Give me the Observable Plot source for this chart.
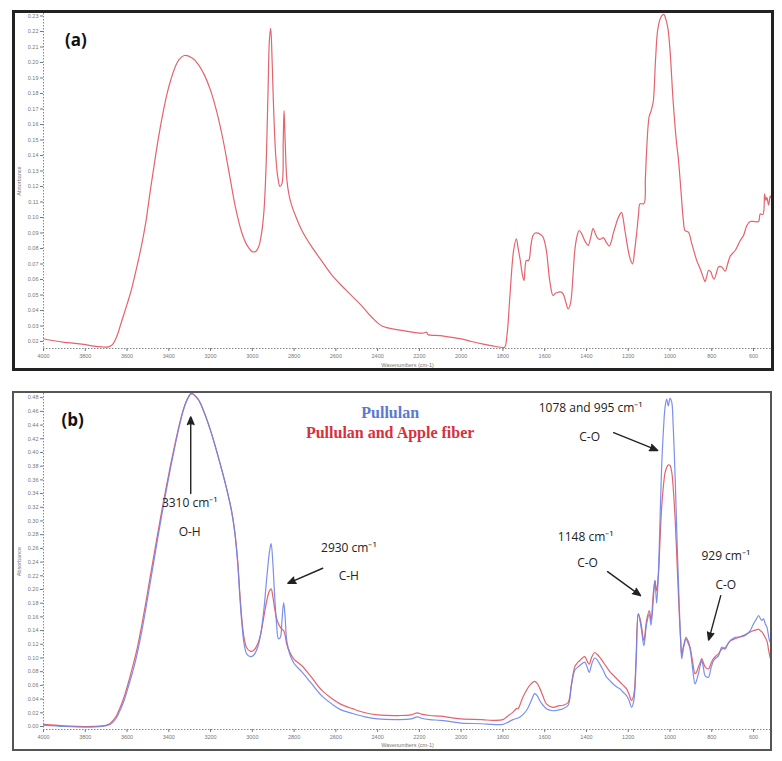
<!DOCTYPE html>
<html><head><meta charset="utf-8">
<script src="https://cdn.jsdelivr.net/npm/d3@7"></script>
<script src="https://cdn.jsdelivr.net/npm/@observablehq/plot@0.6"></script>
<style>
body{margin:0;background:#fff;width:782px;height:761px;position:relative;overflow:hidden;}
.panel{position:absolute;}
.frame{position:absolute;box-sizing:border-box;pointer-events:none;}
</style></head><body>
<div id="a" class="panel" style="left:0;top:0"></div>
<div id="b" class="panel" style="left:0;top:385px"></div>
<div class="frame" style="left:12px;top:10px;width:762px;height:361px;border:3px solid #222"></div>
<div class="frame" style="left:12px;top:391px;width:760px;height:360px;border:2px solid #555"></div>
<script>
// ---------- tick labels ----------
const xTicks = [4000,3800,3600,3400,3200,3000,2800,2600,2400,2200,2000,1800,1600,1400,1200,1000,800,600];
const yTicksA = [0.02,0.03,0.04,0.05,0.06,0.07,0.08,0.09,0.10,0.11,0.12,0.13,0.14,0.15,0.16,0.17,0.18,0.19,0.20,0.21,0.22,0.23];
const yTicksB = [0.00,0.02,0.04,0.06,0.08,0.10,0.12,0.14,0.16,0.18,0.20,0.22,0.24,0.26,0.28,0.30,0.32,0.34,0.36,0.38,0.40,0.42,0.44,0.46,0.48];

// ---------- panel (a): apple fiber spectrum ----------
const wnA = [4000,3950,3900,3850,3800,3760,3720,3690,3670,3650,3629,3600,3580,3550,3532,3510,3490,3470,3450,3430,3410,3390,3370,3350,3326,3290,3260,3230,3200,3170,3140,3110,3080,3050,3025,3000,2985,2970,2958,2945,2935,2925,2918,2912,2905,2898,2888,2879,2868,2858,2852,2848,2843,2835,2825,2812,2790,2764,2720,2668,2620,2572,2520,2476,2430,2379,2300,2220,2180,2165,2160,2100,2050,2000,1950,1900,1850,1810,1792,1780,1768,1749,1736,1727,1717,1708,1699,1688,1677,1666,1656,1645,1632,1620,1608,1592,1576,1560,1548,1536,1524,1512,1500,1488,1477,1464,1456,1445,1435,1425,1416,1404,1392,1380,1368,1356,1344,1332,1320,1305,1291,1280,1272,1260,1253,1240,1232,1224,1216,1208,1200,1190,1179,1170,1160,1150,1144,1125,1118,1112,1100,1090,1080,1070,1060,1050,1040,1030,1020,1010,1000,985,970,960,952,944,936,928,912,896,872,853,840,832,824,816,805,797,789,778,768,752,736,724,712,688,664,648,632,616,596,576,568,555,547,541,536,528,520,514];
const absA = [0.0218,0.0205,0.0195,0.0188,0.0180,0.0170,0.0165,0.0166,0.0180,0.0230,0.0316,0.044,0.053,0.070,0.081,0.097,0.116,0.134,0.151,0.166,0.179,0.189,0.197,0.202,0.2045,0.203,0.199,0.192,0.182,0.168,0.150,0.128,0.106,0.090,0.082,0.078,0.078,0.081,0.088,0.103,0.130,0.180,0.215,0.222,0.200,0.170,0.140,0.127,0.120,0.122,0.150,0.169,0.150,0.125,0.115,0.108,0.100,0.092,0.082,0.072,0.063,0.056,0.049,0.043,0.036,0.030,0.0275,0.0258,0.0255,0.0260,0.0245,0.0238,0.0228,0.0217,0.0200,0.0185,0.0172,0.0163,0.0163,0.025,0.0465,0.0787,0.0863,0.080,0.0723,0.064,0.0594,0.0723,0.0723,0.082,0.0884,0.090,0.0899,0.089,0.0874,0.0787,0.0594,0.0497,0.0512,0.0518,0.052,0.0508,0.046,0.0411,0.0443,0.0637,0.0787,0.088,0.0916,0.090,0.0874,0.084,0.082,0.087,0.093,0.089,0.0863,0.086,0.087,0.084,0.0815,0.085,0.0896,0.095,0.0981,0.102,0.1034,0.099,0.0916,0.085,0.0787,0.073,0.0701,0.078,0.0896,0.103,0.1088,0.109,0.125,0.143,0.165,0.169,0.175,0.200,0.220,0.227,0.230,0.231,0.228,0.222,0.208,0.175,0.150,0.138,0.125,0.111,0.098,0.0916,0.0906,0.0833,0.0723,0.066,0.061,0.0587,0.062,0.0658,0.065,0.062,0.0602,0.064,0.0681,0.0681,0.0654,0.070,0.075,0.0787,0.085,0.0884,0.0948,0.0974,0.0974,0.0974,0.1023,0.102,0.1153,0.111,0.113,0.108,0.114,0.112];

// ---------- panel (b): Pullulan (blue) ----------
const wnBlue = [4000,3900,3800,3720,3690,3676,3652,3630,3614,3590,3571,3550,3530,3510,3490,3470,3450,3430,3410,3390,3370,3350,3330,3310,3292,3260,3230,3198,3160,3127,3100,3085,3070,3060,3050,3040,3027,3010,2994,2975,2960,2945,2930,2918,2910,2902,2893,2884,2875,2866,2858,2850,2843,2835,2820,2800,2764,2720,2668,2620,2580,2520,2460,2400,2300,2240,2210,2190,2150,2100,2050,2000,1900,1850,1800,1784,1752,1720,1688,1664,1648,1636,1624,1608,1592,1560,1536,1512,1488,1472,1456,1444,1432,1420,1408,1396,1387,1374,1360,1348,1336,1320,1304,1288,1272,1256,1240,1224,1208,1196,1184,1173,1163,1152,1144,1136,1125,1112,1099,1091,1080,1072,1064,1056,1048,1040,1032,1024,1016,1008,1000,992,985,975,965,955,948,944,935,923,914,904,892,880,872,864,856,848,840,832,816,804,792,780,768,760,752,736,724,712,700,688,664,640,616,600,588,576,568,560,552,544,536,523,514];
const absBlue = [0.002,0.000,-0.001,0.000,0.002,0.004,0.012,0.026,0.038,0.062,0.082,0.108,0.138,0.172,0.208,0.244,0.280,0.315,0.348,0.380,0.410,0.438,0.462,0.478,0.486,0.478,0.458,0.430,0.390,0.352,0.315,0.285,0.238,0.190,0.150,0.122,0.106,0.102,0.104,0.115,0.135,0.170,0.220,0.255,0.267,0.240,0.190,0.150,0.128,0.130,0.155,0.181,0.160,0.125,0.105,0.092,0.080,0.064,0.045,0.033,0.025,0.019,0.014,0.011,0.010,0.011,0.014,0.012,0.010,0.009,0.007,0.005,0.004,0.003,0.003,0.005,0.010,0.0136,0.023,0.038,0.048,0.045,0.038,0.031,0.026,0.023,0.024,0.026,0.031,0.060,0.082,0.086,0.089,0.092,0.094,0.086,0.079,0.092,0.100,0.097,0.091,0.082,0.072,0.067,0.062,0.058,0.055,0.050,0.045,0.038,0.028,0.038,0.087,0.1645,0.155,0.140,0.118,0.150,0.164,0.148,0.185,0.213,0.180,0.220,0.300,0.380,0.430,0.465,0.478,0.468,0.479,0.474,0.440,0.360,0.260,0.170,0.120,0.099,0.115,0.128,0.122,0.113,0.085,0.062,0.068,0.077,0.088,0.096,0.086,0.074,0.072,0.085,0.096,0.100,0.103,0.110,0.116,0.113,0.120,0.125,0.128,0.130,0.131,0.133,0.140,0.150,0.156,0.162,0.158,0.155,0.157,0.150,0.145,0.125,0.120];

// ---------- panel (b): Pullulan and Apple fiber (red) ----------
const wnRed = [4000,3900,3800,3720,3690,3676,3652,3630,3614,3590,3571,3550,3530,3510,3490,3470,3450,3430,3410,3390,3370,3350,3330,3310,3292,3260,3230,3198,3160,3127,3100,3085,3070,3060,3050,3040,3027,3010,2994,2975,2960,2945,2930,2918,2910,2902,2893,2884,2875,2866,2858,2850,2843,2835,2820,2800,2764,2720,2668,2620,2580,2520,2460,2400,2300,2240,2210,2190,2150,2100,2050,2000,1900,1850,1800,1784,1752,1735,1728,1704,1672,1648,1636,1624,1608,1592,1560,1536,1512,1488,1472,1456,1444,1432,1420,1408,1396,1387,1374,1360,1348,1336,1320,1304,1288,1272,1256,1240,1224,1208,1196,1184,1173,1163,1152,1144,1136,1125,1112,1099,1091,1080,1072,1064,1056,1048,1040,1032,1024,1016,1008,1000,992,985,975,965,955,948,944,935,923,914,904,892,880,872,864,856,848,840,832,816,804,792,780,768,752,736,712,688,664,640,616,600,588,576,568,560,548,536,528,520,514];
const absRed = [0.003,0.001,0.000,0.001,0.003,0.006,0.015,0.030,0.043,0.068,0.090,0.116,0.147,0.181,0.217,0.252,0.287,0.321,0.353,0.384,0.413,0.440,0.463,0.479,0.486,0.478,0.458,0.430,0.390,0.352,0.316,0.287,0.241,0.195,0.156,0.130,0.115,0.110,0.111,0.120,0.135,0.160,0.185,0.198,0.201,0.190,0.172,0.158,0.150,0.145,0.142,0.140,0.133,0.120,0.108,0.098,0.089,0.073,0.053,0.041,0.033,0.026,0.020,0.017,0.016,0.017,0.020,0.018,0.016,0.015,0.013,0.011,0.010,0.009,0.010,0.0136,0.021,0.026,0.026,0.043,0.060,0.066,0.063,0.056,0.044,0.033,0.028,0.030,0.031,0.035,0.062,0.087,0.093,0.096,0.100,0.102,0.095,0.091,0.102,0.108,0.105,0.101,0.094,0.087,0.080,0.075,0.070,0.065,0.060,0.055,0.047,0.038,0.047,0.096,0.1645,0.158,0.145,0.125,0.155,0.169,0.155,0.194,0.213,0.198,0.220,0.270,0.320,0.350,0.370,0.378,0.382,0.381,0.372,0.350,0.300,0.230,0.160,0.120,0.106,0.118,0.130,0.125,0.116,0.095,0.077,0.080,0.087,0.093,0.099,0.093,0.087,0.084,0.092,0.099,0.103,0.106,0.113,0.115,0.125,0.128,0.131,0.134,0.138,0.140,0.141,0.142,0.140,0.138,0.132,0.125,0.112,0.100,0.094];

// ---------- annotations (data units) ----------
const panelLabels = ["(a)", "(b)"];
const legendNames = ["Pullulan", "Pullulan and Apple fiber"];
const legendColors = ["#5b78d2", "#d9303b"];
const bandText = ["3310 cm⁻¹","O-H","2930 cm⁻¹","C-H","1078 and 995 cm⁻¹","C-O","1148 cm⁻¹","C-O","929 cm⁻¹","C-O"];
const bandWn   = [3300, 3300, 2538, 2538, 1380, 1385, 1404, 1395, 733, 733];
const bandAbs  = [0.326, 0.283, 0.260, 0.219, 0.464, 0.422, 0.277, 0.238, 0.248, 0.206];
const arrowFromWn  = [3295, 2663, 1270, 1299, 757];
const arrowFromAbs = [0.340, 0.231, 0.429, 0.226, 0.191];
const arrowToWn    = [3295, 2830, 1059, 1141, 815];
const arrowToAbs   = [0.452, 0.209, 0.403, 0.191, 0.126];

// ---------- build tables ----------
const dataA = wnA.map((w, i) => ({wn: w, abs: absA[i]}));
const dataBlue = wnBlue.map((w, i) => ({wn: w, abs: absBlue[i]}));
const dataRed = wnRed.map((w, i) => ({wn: w, abs: absRed[i]}));
const bands = bandText.map((t, i) => ({text: t, wn: bandWn[i], abs: bandAbs[i]}));
const arrows = arrowFromWn.map((w, i) => ({x1: w, y1: arrowFromAbs[i], x2: arrowToWn[i], y2: arrowToAbs[i]}));
const legend = legendNames.map((n, i) => ({name: n, color: legendColors[i], wn: 2340, abs: [0.458, 0.429][i]}));

const xDomain = [4000, 514];
const yDomA = [0.0155, 0.2316];
const yDomB = [-0.0044, 0.4861];
const baseStyle = {fontFamily: "'Liberation Sans', Arial, sans-serif", fontSize: "5.5px", color: "#777", background: "transparent", overflow: "visible"};

const chartA = Plot.plot({
  width: 782, height: 380,
  marginLeft: 43, marginRight: 11, marginTop: 13, marginBottom: 32,
  style: baseStyle,
  x: {domain: xDomain, ticks: xTicks, tickSize: 3, tickPadding: 3, tickFormat: d => String(d), label: "Wavenumbers (cm-1)", labelAnchor: "center", labelOffset: 18, labelArrow: "none"},
  y: {domain: yDomA, ticks: yTicksA, tickSize: 3, tickPadding: 2, tickFormat: d => d.toFixed(2), label: "Absorbance", labelAnchor: "center", labelOffset: 26, labelArrow: "none"},
  marks: [
    Plot.ruleX([xDomain[0]], {stroke: "#888", strokeDasharray: "1.5,1.5"}),
    Plot.ruleY([yDomA[0]], {stroke: "#888", strokeDasharray: "1.5,1.5"}),
    Plot.line(dataA, {x: "wn", y: "abs", stroke: "#e4636c", strokeWidth: 1.2, curve: "catmull-rom"}),
    Plot.text([panelLabels[0]], {x: 3845, y: 0.214, text: d => d, fontSize: 17, fontWeight: "bold", fill: "#111", fontFamily: "'Open Sans', sans-serif"})
  ]
});
document.getElementById("a").appendChild(chartA);

const chartB = Plot.plot({
  width: 782, height: 370,
  marginLeft: 43, marginRight: 11, marginTop: 8, marginBottom: 26,
  style: baseStyle,
  x: {domain: xDomain, ticks: xTicks, tickSize: 3, tickPadding: 3, tickFormat: d => String(d), label: "Wavenumbers (cm-1)", labelAnchor: "center", labelOffset: 17, labelArrow: "none"},
  y: {domain: yDomB, ticks: yTicksB, tickSize: 3, tickPadding: 2, tickFormat: d => d.toFixed(2), label: "Absorbance", labelAnchor: "center", labelOffset: 26, labelArrow: "none"},
  marks: [
    Plot.ruleX([xDomain[0]], {stroke: "#888", strokeDasharray: "1.5,1.5"}),
    Plot.ruleY([yDomB[0]], {stroke: "#888", strokeDasharray: "1.5,1.5"}),
    Plot.line(dataRed, {x: "wn", y: "abs", stroke: "#e4636c", strokeWidth: 1.2, curve: "catmull-rom"}),
    Plot.line(dataBlue, {x: "wn", y: "abs", stroke: "#6d83ea", strokeWidth: 1.2, strokeOpacity: 0.9, curve: "catmull-rom"}),
    Plot.text([panelLabels[1]], {x: 3860, y: 0.447, text: d => d, fontSize: 17, fontWeight: "bold", fill: "#111", fontFamily: "'Open Sans', sans-serif"}),
    Plot.text(legend, {x: "wn", y: "abs", text: "name", fill: "color", fontSize: 16, fontWeight: "bold", fontFamily: "'Liberation Serif', serif"}),
    Plot.text(bands, {x: "wn", y: "abs", text: "text", fill: "#222", fontSize: 12, fontFamily: "'Open Sans', sans-serif"}),
    Plot.arrow(arrows, {x1: "x1", y1: "y1", x2: "x2", y2: "y2", stroke: "#222", fill: "#222", strokeWidth: 1.4, headLength: 9, headAngle: 45})
  ]
});
document.getElementById("b").appendChild(chartB);
</script>
</body></html>
